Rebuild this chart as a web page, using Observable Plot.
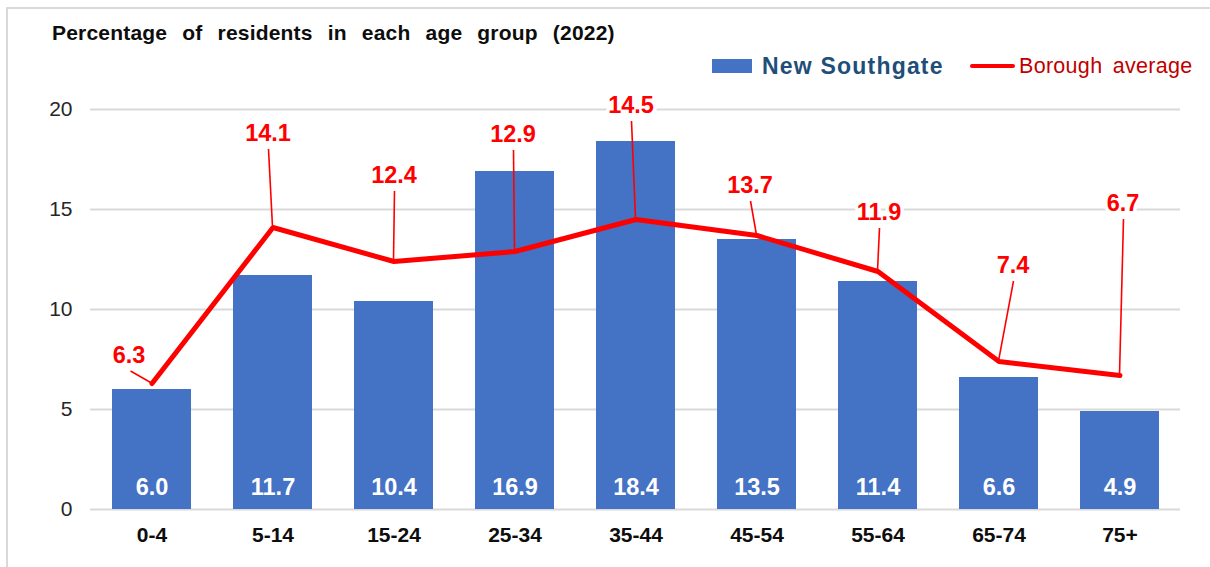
<!DOCTYPE html>
<html>
<head>
<meta charset="utf-8">
<script src="https://cdn.jsdelivr.net/npm/d3@7"></script>
<script src="https://cdn.jsdelivr.net/npm/@observablehq/plot@0.6"></script>
<style>
  html, body { margin: 0; padding: 0; background: #fff; }
  #wrap { position: relative; width: 1210px; height: 567px; overflow: hidden; font-family: "Liberation Sans", Arial, sans-serif; }
  #frame { position: absolute; left: 6px; top: 7px; width: 1300px; height: 700px; border-top: 2px solid #d9d9d9; border-left: 2px solid #d9d9d9; pointer-events: none; }
  #title { position: absolute; left: 52px; top: 22px; font-size: 21px; line-height: 22px; font-weight: bold; color: #0d0d0d; word-spacing: 9px; letter-spacing: 0.2px; white-space: nowrap; }
  .leg { position: absolute; white-space: nowrap; }
  #chart { position: absolute; left: 0; top: 0; }
</style>
</head>
<body>
<div id="wrap">
  <div id="chart"></div>
  <div id="frame"></div>
  <div id="title">Percentage of residents in each age group (2022)</div>
  <div class="leg" style="left:712px;top:59px;width:40px;height:14px;background:#4472C4;"></div>
  <div class="leg" style="left:762px;top:53px;font-size:23px;line-height:26px;font-weight:bold;color:#1F4E79;letter-spacing:1.2px;">New Southgate</div>
  <div class="leg" style="left:970px;top:64px;width:45px;height:4px;border-radius:2px;background:#FF0000;"></div>
  <div class="leg" style="left:1019px;top:53px;font-size:21.5px;line-height:26px;color:#C00000;word-spacing:4px;letter-spacing:0.3px;">Borough average</div>
</div>
<script>
const categories = ["0-4", "5-14", "15-24", "25-34", "35-44", "45-54", "55-64", "65-74", "75+"];
const newSouthgate = [6.0, 11.7, 10.4, 16.9, 18.4, 13.5, 11.4, 6.6, 4.9];
const boroughAverage = [6.3, 14.1, 12.4, 12.9, 14.5, 13.7, 11.9, 7.4, 6.7];
const yTicks = [0, 5, 10, 15, 20];
// label layout offsets (pixels) for the borough-average callouts
const labelOffsets = [[-23, -28], [-5, -94], [0, -86], [-2, -117], [-5, -114], [-7, -50], [1, -59], [14, -96], [3, -172]];

const rows = categories.map((c, i) => ({cat: c, ns: newSouthgate[i], avg: boroughAverage[i], i}));

const red = "#FF0000";
const labelMarks = rows.map((r, i) => Plot.text([r], {
  x: "cat", y: "avg", text: d => d.avg.toFixed(1),
  dx: labelOffsets[i][0], dy: labelOffsets[i][1],
  fill: red, stroke: "white", strokeWidth: 7,
  fontSize: 23.5, fontWeight: "bold"
}));

const chart = Plot.plot({
  width: 1210,
  height: 567,
  marginLeft: 90,
  marginRight: 30,
  marginTop: 109,
  marginBottom: 58,
  style: {fontFamily: "Liberation Sans, Arial, sans-serif", background: "transparent", overflow: "visible"},
  x: {type: "band", domain: categories, paddingInner: 0.348, paddingOuter: 0.174, label: null},
  y: {domain: [0, 20], label: null},
  marks: [
    Plot.gridY(yTicks, {stroke: "#d9d9d9", strokeOpacity: 1, strokeWidth: 2}),
    Plot.axisY(yTicks, {tickSize: 0, tickPadding: 18, fontSize: 21, fill: "#262626", label: null}),
    Plot.axisX({tickSize: 0, tickPadding: 18, fontSize: 21, fontWeight: "bold", fill: "#0d0d0d", label: null}),
    Plot.barY(rows, {x: "cat", y: "ns", fill: "#4472C4"}),
    Plot.text(rows, {x: "cat", y: () => 0, text: d => d.ns.toFixed(1), dy: -22, fill: "white", fontSize: 23.5, fontWeight: "bold"}),
    Plot.line(rows, {x: "cat", y: "avg", stroke: red, strokeWidth: 5, strokeLinejoin: "miter", strokeLinecap: "round"}),
    ...labelMarks
  ]
});
document.getElementById("chart").appendChild(chart);

// leader lines from each callout label to its point, placed with the plot's own scales
const sx = chart.scale("x"), sy = chart.scale("y");
const svg = d3.select(chart);
const g = svg.append("g").attr("stroke", red).attr("stroke-width", 1.6).attr("fill", "none");
rows.forEach((r, i) => {
  const px = sx.apply(r.cat) + sx.bandwidth / 2;
  const py = sy.apply(r.avg);
  const [dx, dy] = labelOffsets[i];
  const sxp = px + dx + (i === 0 ? 2 : 1);
  const syp = py + dy + 16;
  g.append("line").attr("x1", sxp).attr("y1", syp).attr("x2", px).attr("y2", py);
});
</script>
</body>
</html>
